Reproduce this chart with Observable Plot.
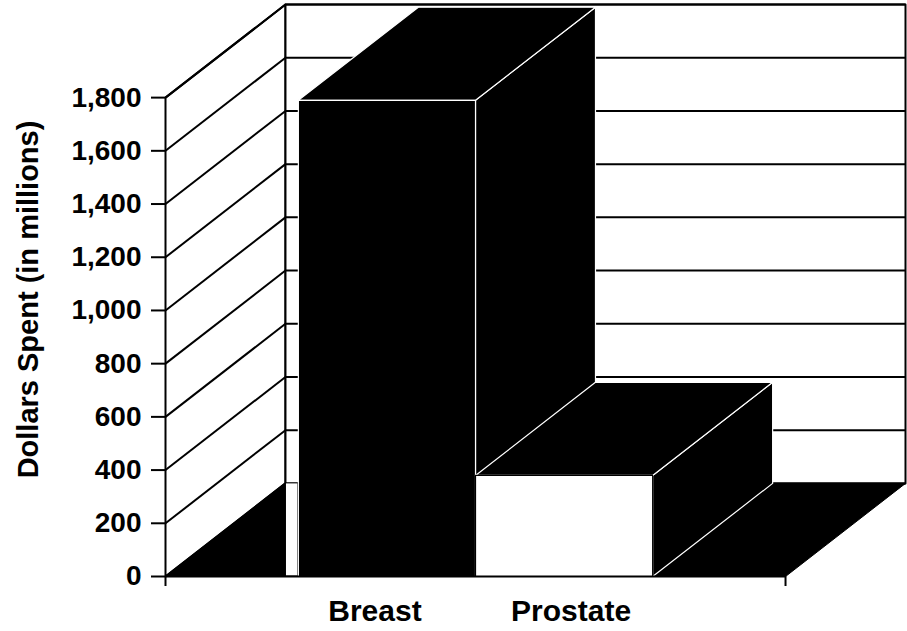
<!DOCTYPE html>
<html><head><meta charset="utf-8">
<script src="https://cdn.jsdelivr.net/npm/d3@7"></script>
<script src="https://cdn.jsdelivr.net/npm/@observablehq/plot@0.6"></script>
<style>body{margin:0;background:#fff}</style>
</head><body><div id="chart"></div>
<script>
// ---- data ----
const categories = ["Breast", "Prostate"];
const values = [1790, 380];
const yTicks = [0, 200, 400, 600, 800, 1000, 1200, 1400, 1600, 1800];
const yLabel = "Dollars Spent (in millions)";
const yMax = 1800;

// ---- 3D layout (Excel-style) ----
const DEPTH_X = 0.1935;   // depth offset in category-axis units
const DEPTH_Y = 350;      // depth offset in value units
const GAP = 1.5;          // gap width relative to bar width
const barW = 1 / (categories.length + GAP);
const pad = GAP * barW / 2;
const FRONT_FILL = {Breast: "black", Prostate: "white"};
const FRONT_STROKE = {Breast: "white", Prostate: "black"};
const LABEL_DX = {Breast: -12, Prostate: 7};

const P = (u, v, d) => ({x: u + d * DEPTH_X, y: v + d * DEPTH_Y});
const closed = (id, pts) => [...pts, pts[0]].map(p => ({id, ...p}));

const leftWall = closed("left", [P(0,0,0), P(0,yMax,0), P(0,yMax,1), P(0,0,1)]);
const backWall = closed("back", [P(0,0,1), P(1,0,1), P(1,yMax,1), P(0,yMax,1)]);
const floor = closed("floor", [P(0,0,0), P(1,0,0), P(1,0,1), P(0,0,1)]);
const gridLeft = yTicks.map(t => ({a: P(0,t,0), b: P(0,t,1)}));
const gridBack = yTicks.map(t => ({a: P(0,t,1), b: P(1,t,1)}));

function barMarks(cat, i) {
  const v = values[i];
  const u0 = pad + i * barW, u1 = u0 + barW;
  const side = closed(cat + "s", [P(u1,0,0), P(u1,v,0), P(u1,v,1), P(u1,0,1)]);
  const top = closed(cat + "t", [P(u0,v,0), P(u1,v,0), P(u1,v,1), P(u0,v,1)]);
  const front = closed(cat + "f", [P(u0,0,0), P(u1,0,0), P(u1,v,0), P(u0,v,0)]);
  return [
    Plot.line(side, {x: "x", y: "y", z: "id", fill: "black", stroke: "white", strokeWidth: 1.2}),
    Plot.line(top, {x: "x", y: "y", z: "id", fill: "black", stroke: "white", strokeWidth: 1.2}),
    Plot.line(front, {x: "x", y: "y", z: "id", fill: FRONT_FILL[cat], stroke: FRONT_STROKE[cat], strokeWidth: 1.2})
  ];
}

const chart = Plot.plot({
  width: 907, height: 631,
  marginLeft: 165, marginRight: 2, marginTop: 4, marginBottom: 55,
  x: {domain: [0, 1 + DEPTH_X], axis: null},
  y: {domain: [0, yMax + DEPTH_Y], axis: null},
  style: {fontFamily: "'Liberation Sans', Arial, Helvetica, sans-serif", fontWeight: "bold", fontSize: "28px", background: "white", color: "black"},
  marks: [
    Plot.line(leftWall, {x: "x", y: "y", z: "id", fill: "white", stroke: "black", strokeWidth: 2}),
    Plot.line(backWall, {x: "x", y: "y", z: "id", fill: "white", stroke: "black", strokeWidth: 2}),
    Plot.link(gridLeft, {x1: d => d.a.x, y1: d => d.a.y, x2: d => d.b.x, y2: d => d.b.y, stroke: "black", strokeWidth: 2}),
    Plot.link(gridBack, {x1: d => d.a.x, y1: d => d.a.y, x2: d => d.b.x, y2: d => d.b.y, stroke: "black", strokeWidth: 2}),
    Plot.line(floor, {x: "x", y: "y", z: "id", fill: "black", stroke: "black", strokeWidth: 1}),
    Plot.rect([0], {x1: DEPTH_X, x2: pad, y1: 0, y2: DEPTH_Y, fill: "white", insetLeft: 1, insetRight: 0.5, insetTop: 0.5, insetBottom: 0.5}),
    ...categories.flatMap(barMarks),
    Plot.ruleY([0], {x1: 0, x2: 1, stroke: "black", strokeWidth: 2}),
    Plot.axisX({ticks: [0, 1], tickSize: 10, tickFormat: () => "", label: null, strokeWidth: 2}),
    Plot.axisY({ticks: yTicks, tickFormat: d3.format(","), tickSize: 14, tickPadding: 10, label: null, strokeWidth: 2, fontSize: 28}),
    ...categories.map((c, i) => Plot.text([c], {x: pad + (i + 0.5) * barW, frameAnchor: "bottom", dy: 44, dx: LABEL_DX[c], text: d => d, fontSize: 30, fontWeight: "bold", fill: "black"})),
    Plot.text([yLabel], {frameAnchor: "left", rotate: -90, dx: -137, dy: 9, textAnchor: "middle", text: d => d, fontSize: 29, fontWeight: "bold", fill: "black"})
  ]
});
document.getElementById("chart").appendChild(chart);
</script>
</body></html>
